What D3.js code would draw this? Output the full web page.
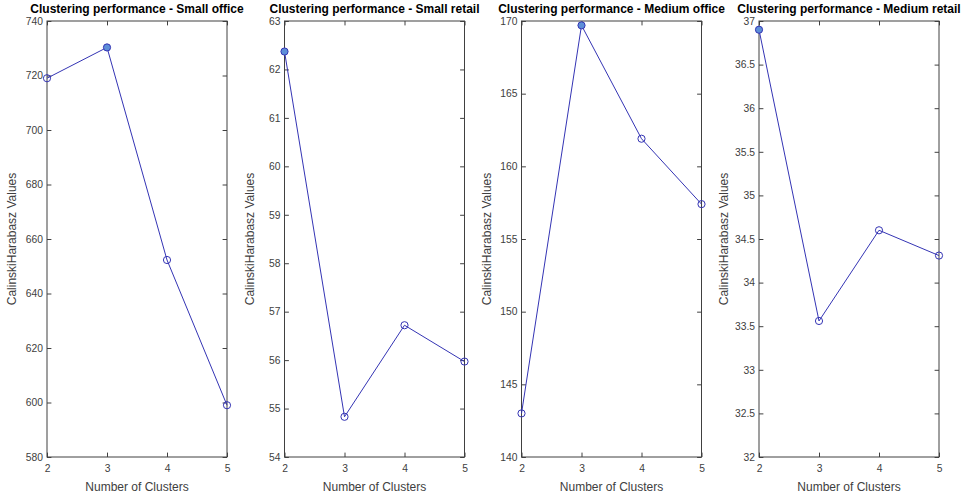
<!DOCTYPE html>
<html><head><meta charset="utf-8">
<script src="https://cdn.jsdelivr.net/npm/d3@7"></script>
<style>
body{margin:0;background:#fff;}
text{font-family:"Liberation Sans",Arial,sans-serif;}
</style></head>
<body><svg id="c" width="964" height="499"></svg>
<script>
const clusters = [2, 3, 4, 5];
const titles = ["Clustering performance - Small office","Clustering performance - Small retail","Clustering performance - Medium office","Clustering performance - Medium retail"];
const smallOffice = [719, 730.3, 652.3, 599];
const smallRetail = [62.37, 54.83, 56.72, 55.97];
const mediumOffice = [143.0, 169.7, 161.9, 157.4];
const mediumRetail = [36.9, 33.56, 34.6, 34.31];
const yDomains = [[580, 740], [54, 63], [140, 170], [32, 37]];
const yTicks = [
  [580,600,620,640,660,680,700,720,740],
  [54,55,56,57,58,59,60,61,62,63],
  [140,145,150,155,160,165,170],
  [32,32.5,33,33.5,34,34.5,35,35.5,36,36.5,37]
];
const series = [smallOffice, smallRetail, mediumOffice, mediumRetail];
const xLabel = "Number of Clusters";
const yLabel = "CalinskiHarabasz Values";

const svg = d3.select("#c");
const plotTop = 21, plotBottom = 457, plotW = 180;
const lefts = [47, 284.5, 521.5, 759];
const axisCol = "#404040", lineCol = "#3434b4";
const tl = 4.4;

series.forEach((vals, i) => {
  const L = lefts[i];
  const x = d3.scaleLinear().domain([2,5]).range([L, L+plotW]);
  const y = d3.scaleLinear().domain(yDomains[i]).range([plotBottom, plotTop]);
  const g = svg.append("g");
  g.append("rect").attr("x", L).attr("y", plotTop).attr("width", plotW).attr("height", plotBottom-plotTop)
    .attr("fill","#fff").attr("stroke", axisCol).attr("stroke-width",1);
  const xa = g.append("g").attr("transform",`translate(0,${plotBottom})`)
    .call(d3.axisBottom(x).tickValues(clusters).tickFormat(d3.format("d")).tickSizeInner(-tl).tickSizeOuter(0).tickPadding(8));
  const ya = g.append("g").attr("transform",`translate(${L},0)`)
    .call(d3.axisLeft(y).tickValues(yTicks[i]).tickFormat(d => String(d)).tickSizeInner(-tl).tickSizeOuter(0).tickPadding(4));
  const xt = g.append("g").attr("transform",`translate(0,${plotTop})`)
    .call(d3.axisTop(x).tickValues(clusters).tickFormat("").tickSizeInner(-tl).tickSizeOuter(0));
  const yr = g.append("g").attr("transform",`translate(${L+plotW},0)`)
    .call(d3.axisRight(y).tickValues(yTicks[i]).tickFormat("").tickSizeInner(-tl).tickSizeOuter(0));
  [xa, ya, xt, yr].forEach(a => {
    a.select(".domain").remove();
    a.selectAll("line").attr("stroke", axisCol);
    a.selectAll("text").attr("fill", axisCol).style("font-size","10.3px").style("font-family","'Liberation Sans',Arial,sans-serif");
  });
  const pts = clusters.map((c, j) => [c, vals[j]]);
  g.append("path").datum(pts)
    .attr("d", d3.line().x(d => x(d[0])).y(d => y(d[1])))
    .attr("fill","none").attr("stroke", lineCol).attr("stroke-width",1);
  const maxIdx = d3.maxIndex(vals);
  g.selectAll("circle.m").data(pts).join("circle")
    .attr("cx", d => x(d[0])).attr("cy", d => y(d[1])).attr("r", 3.6)
    .attr("fill", (d, j) => j === maxIdx ? "#5d8ed8" : "none")
    .attr("stroke", lineCol).attr("stroke-width", 1);
  g.append("text").attr("x", L + plotW/2).attr("y", 12.5).attr("text-anchor","middle")
    .style("font-size","12px").style("font-weight","bold").attr("fill","#000").text(titles[i]);
  g.append("text").attr("x", L + plotW/2).attr("y", 491).attr("text-anchor","middle")
    .style("font-size","12px").attr("fill", axisCol).text(xLabel);
  g.append("text").attr("transform",`translate(${L-31},${(plotTop+plotBottom)/2}) rotate(-90)`)
    .attr("text-anchor","middle").style("font-size","12px").attr("fill", axisCol).text(yLabel);
});
</script></body></html>
